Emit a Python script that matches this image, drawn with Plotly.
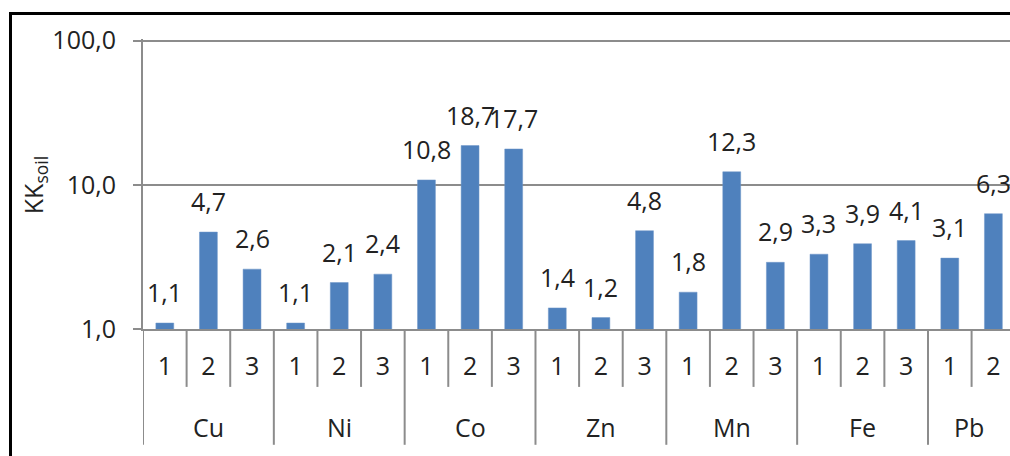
import plotly.graph_objects as go
import math

groups = ["Cu", "Ni", "Co", "Zn", "Mn", "Fe", "Pb"]
subcats = [["1", "2", "3"], ["1", "2", "3"], ["1", "2", "3"], ["1", "2", "3"],
           ["1", "2", "3"], ["1", "2", "3"], ["1", "2"]]
values = [[1.1, 4.7, 2.6], [1.1, 2.1, 2.4], [10.8, 18.7, 17.7], [1.4, 1.2, 4.8],
          [1.8, 12.3, 2.9], [3.3, 3.9, 4.1], [3.1, 6.3]]
y_tickvals = [1, 10, 100]
y_ticktext = ["1,0", "10,0", "100,0"]

W, H = 1010, 456
DECADE = 144.5          # pixels per decade on the log axis
EXTRA = 1.5             # pixels of headroom above 100 so its gridline is drawn
L, R, B = 143, 0, 127
T = 40 - EXTRA
PW, PH = W - L - R, H - T - B
y_top = 2 + EXTRA / DECADE
AXIS_Y = H - B          # pixel row of the x axis
CAT_W = 43.61           # pixel width of one sub-category
x_max = -0.5 + PW / CAT_W

GRAY = "#8c8c8c"
TXT = "#222222"
FONT = "Open Sans"
FS = 25

xs, ys, ticktext, lbls = [], [], [], []
group_bounds = []
i = 0
for g, subs, vals in zip(groups, subcats, values):
    start = i
    for s, v in zip(subs, vals):
        xs.append(i)
        ys.append(v)
        ticktext.append(s)
        lbls.append(f"{v:.1f}".replace(".", ","))
        i += 1
    group_bounds.append((g, start, i - 1))

fig = go.Figure()
fig.add_trace(go.Bar(
    x=xs, y=ys, width=0.41,
    marker=dict(color="#4F81BD", line=dict(color="#6f97c8", width=0.5)),
    hoverinfo="skip",
))

annotations = []
for x, y, t in zip(xs, ys, lbls):
    annotations.append(dict(
        x=x, y=math.log10(y), xref="x", yref="y", text=t, showarrow=False,
        yanchor="bottom", xanchor="center", yshift=12,
        font=dict(family=FONT, size=FS, color=TXT),
    ))

shapes = []
sub_len = 58 / PH
grp_len = 116 / PH
group_label_y = -(427 - AXIS_Y) / PH
for (g, a, b) in group_bounds:
    shapes.append(dict(type="line", xref="x", yref="paper", x0=a - 0.5, x1=a - 0.5,
                       y0=0, y1=-grp_len, line=dict(color=GRAY, width=2)))
    for k in range(a, b):
        shapes.append(dict(type="line", xref="x", yref="paper", x0=k + 0.5, x1=k + 0.5,
                           y0=0, y1=-sub_len, line=dict(color=GRAY, width=2)))
    cx = (a - 0.5 + min(b + 0.5, x_max)) / 2
    annotations.append(dict(
        x=cx, y=group_label_y, xref="x", yref="paper", text=g,
        showarrow=False, xanchor="center", yanchor="middle",
        font=dict(family=FONT, size=FS, color=TXT),
    ))

# outer frame
shapes.append(dict(type="rect", xref="paper", yref="paper",
                   x0=(10.5 - L) / PW, x1=1.3, y0=-1.0, y1=(AXIS_Y - 13) / PH,
                   line=dict(color="black", width=3), fillcolor="rgba(0,0,0,0)"))

# y-axis title
annotations.append(dict(
    x=(34 - L) / PW, y=(AXIS_Y - 185) / PH, xref="paper", yref="paper",
    text="KK<sub>soil</sub>", textangle=-90, showarrow=False,
    xanchor="center", yanchor="middle",
    font=dict(family=FONT, size=FS, color=TXT),
))

fig.update_layout(
    width=W, height=H,
    margin=dict(l=L, r=R, t=T, b=B, autoexpand=False),
    paper_bgcolor="white", plot_bgcolor="white",
    showlegend=False,
    bargap=0.59,
    font=dict(family=FONT, size=FS, color=TXT),
    xaxis=dict(
        range=[-0.5, x_max], tickmode="array", tickvals=xs, ticktext=ticktext,
        showgrid=False, zeroline=False, showline=True, linecolor=GRAY, linewidth=2,
        ticks="", ticklabelstandoff=14,
        tickfont=dict(family=FONT, size=FS, color=TXT),
    ),
    yaxis=dict(
        type="log", range=[0, y_top], tickmode="array", tickvals=y_tickvals, ticktext=y_ticktext,
        showgrid=True, gridcolor=GRAY, gridwidth=2,
        showline=True, linecolor=GRAY, linewidth=2,
        ticks="outside", ticklen=8, tickcolor=GRAY, tickwidth=2,
        ticklabelstandoff=12,
        tickfont=dict(family=FONT, size=FS, color=TXT),
        zeroline=False,
    ),
    shapes=shapes,
    annotations=annotations,
)

fig.write_html("out.html")
